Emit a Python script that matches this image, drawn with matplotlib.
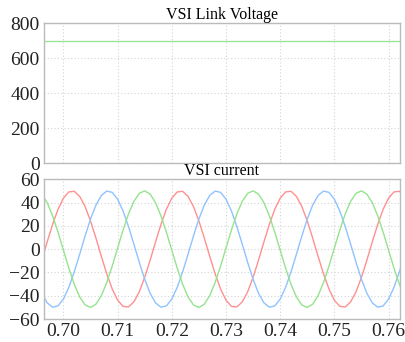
import numpy as np
import matplotlib
matplotlib.use("Agg")
import matplotlib.pyplot as plt

t_start = 0.696
t_step = 0.001

i_red = [-9.4, 6.3, 21.3, 34.2, 43.8, 49.1, 49.6, 45.2, 36.5, 24.1,
         9.4, -6.3, -21.3, -34.2, -43.8, -49.1, -49.6, -45.2, -36.5, -24.1,
         -9.4, 6.3, 21.3, 34.2, 43.8, 49.1, 49.6, 45.2, 36.5, 24.1,
         9.4, -6.3, -21.3, -34.2, -43.8, -49.1, -49.6, -45.2, -36.5, -24.1,
         -9.4, 6.3, 21.3, 34.2, 43.8, 49.1, 49.6, 45.2, 36.5, 24.1,
         9.4, -6.3, -21.3, -34.2, -43.8, -49.1, -49.6, -45.2, -36.5, -24.1,
         -9.4, 6.3, 21.3, 34.2, 43.8, 49.1, 49.6, 45.2]
i_blue = [-37.9, -46.1, -49.8, -48.7, -42.8, -32.7, -19.4, -4.2, 11.4, 25.9,
          37.9, 46.1, 49.8, 48.7, 42.8, 32.7, 19.4, 4.2, -11.4, -25.9,
          -37.9, -46.1, -49.8, -48.7, -42.8, -32.7, -19.4, -4.2, 11.4, 25.9,
          37.9, 46.1, 49.8, 48.7, 42.8, 32.7, 19.4, 4.2, -11.4, -25.9,
          -37.9, -46.1, -49.8, -48.7, -42.8, -32.7, -19.4, -4.2, 11.4, 25.9,
          37.9, 46.1, 49.8, 48.7, 42.8, 32.7, 19.4, 4.2, -11.4, -25.9,
          -37.9, -46.1, -49.8, -48.7, -42.8, -32.7, -19.4, -4.2]
i_green = [47.2, 39.8, 28.5, 14.5, -1.0, -16.4, -30.2, -41.1, -47.9, -50.0,
           -47.2, -39.8, -28.5, -14.5, 1.0, 16.4, 30.2, 41.1, 47.9, 50.0,
           47.2, 39.8, 28.5, 14.5, -1.0, -16.4, -30.2, -41.1, -47.9, -50.0,
           -47.2, -39.8, -28.5, -14.5, 1.0, 16.4, 30.2, 41.1, 47.9, 50.0,
           47.2, 39.8, 28.5, 14.5, -1.0, -16.4, -30.2, -41.1, -47.9, -50.0,
           -47.2, -39.8, -28.5, -14.5, 1.0, 16.4, 30.2, 41.1, 47.9, 50.0,
           47.2, 39.8, 28.5, 14.5, -1.0, -16.4, -30.2, -41.1]
v_link = 700.0

x_ticks = [0.70, 0.71, 0.72, 0.73, 0.74, 0.75, 0.76]
x_tick_labels = ["0.70", "0.71", "0.72", "0.73", "0.74", "0.75", "0.76"]
v_ticks = [0, 200, 400, 600, 800]
i_ticks = [-60, -40, -20, 0, 20, 40, 60]

t = t_start + t_step * np.arange(len(i_red))

plt.rcParams['font.family'] = ['Liberation Serif', 'DejaVu Serif']

fig = plt.figure(figsize=(4.06, 3.42), dpi=100)
ax1 = fig.add_axes([0.108, 0.523, 0.877, 0.409])
ax2 = fig.add_axes([0.108, 0.067, 0.877, 0.409])

xlim = (0.69638, 0.76209)
grid_kw = dict(color='#d4d4d4', linestyle=(0, (1, 2)), linewidth=0.8)

# link voltage
ax1.plot([xlim[0], xlim[1]], [v_link, v_link], color='#99e699', linewidth=1.0)
ax1.set_xlim(*xlim)
ax1.set_ylim(0, 800)
ax1.set_yticks(v_ticks)
ax1.set_xticks(x_ticks)
ax1.set_xticklabels([])
ax1.set_title('VSI Link Voltage', fontsize=11.5, pad=1)

# phase currents
ax2.plot(t, i_red, color='#ff9090', linewidth=1.0)
ax2.plot(t, i_blue, color='#8fc3ff', linewidth=1.0)
ax2.plot(t, i_green, color='#95e38d', linewidth=1.0)
ax2.set_xlim(*xlim)
ax2.set_ylim(-60, 60)
ax2.set_yticks(i_ticks)
ax2.set_xticks(x_ticks)
ax2.set_xticklabels(x_tick_labels)
ax2.set_title('VSI current', fontsize=11.5, pad=1)

for ax in (ax1, ax2):
    ax.grid(True, **grid_kw)
    ax.tick_params(length=0, labelsize=14, pad=3, colors='#222222')
    for s in ax.spines.values():
        s.set_color('#bbbbbb')
        s.set_linewidth(1.0)

plt.savefig("out.png", dpi=100)
